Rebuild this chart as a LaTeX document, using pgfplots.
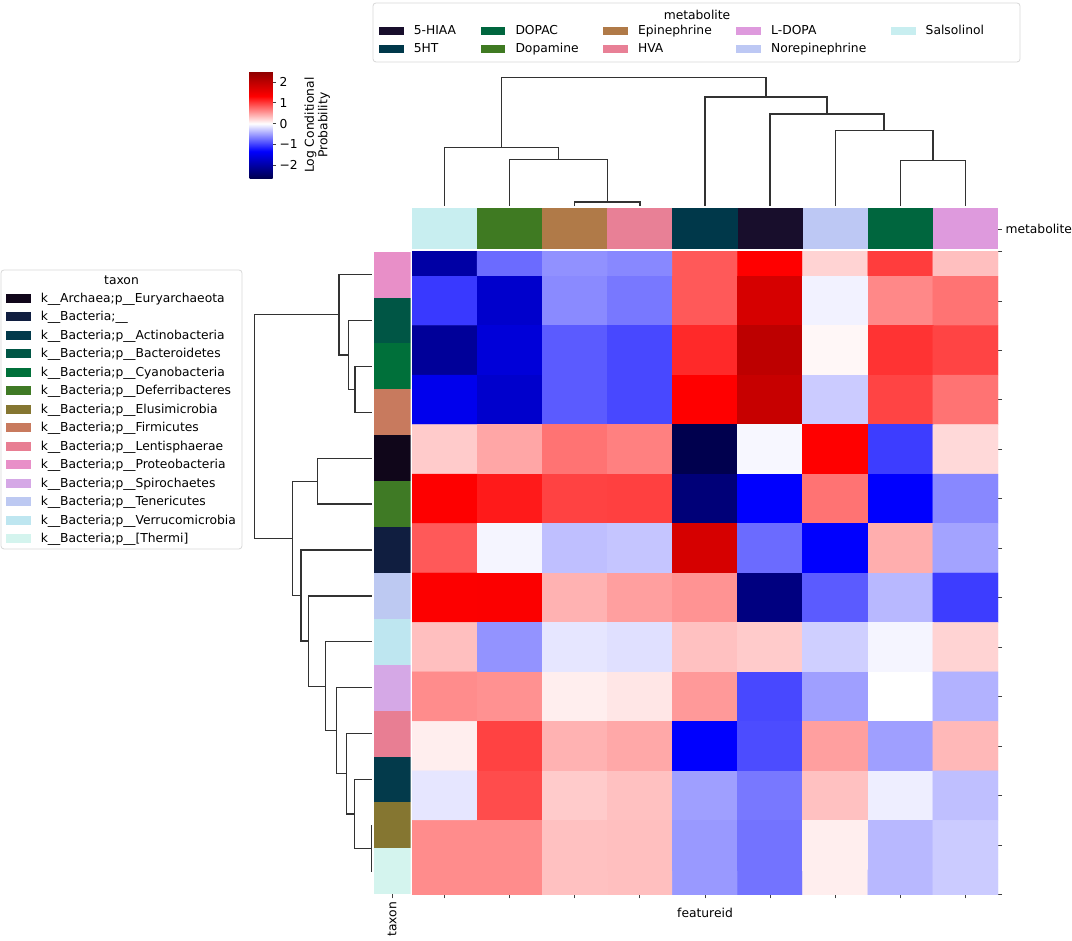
\documentclass[border=0pt]{standalone}
\usepackage{fontspec}
\setmainfont{DejaVu Sans}
\usepackage{pgfplots}
\pgfplotsset{compat=1.18}

% metabolite colours
\definecolor{mHIAA}{RGB}{24,14,44}
\definecolor{mHT}{RGB}{0,56,74}
\definecolor{mDOPAC}{RGB}{0,102,62}
\definecolor{mDopa}{RGB}{63,122,34}
\definecolor{mEpi}{RGB}{176,122,72}
\definecolor{mHVA}{RGB}{232,128,150}
\definecolor{mLDOPA}{RGB}{222,154,221}
\definecolor{mNor}{RGB}{189,200,244}
\definecolor{mSal}{RGB}{200,238,240}
% taxon colours
\definecolor{tEur}{RGB}{16,6,26}
\definecolor{tBac}{RGB}{16,30,64}
\definecolor{tAct}{RGB}{3,58,75}
\definecolor{tBact}{RGB}{0,86,69}
\definecolor{tCya}{RGB}{0,112,58}
\definecolor{tDef}{RGB}{63,122,37}
\definecolor{tElu}{RGB}{133,118,49}
\definecolor{tFir}{RGB}{200,122,94}
\definecolor{tLen}{RGB}{232,126,147}
\definecolor{tPro}{RGB}{232,143,200}
\definecolor{tSpi}{RGB}{213,168,230}
\definecolor{tTen}{RGB}{189,201,242}
\definecolor{tVer}{RGB}{190,230,240}
\definecolor{tThe}{RGB}{212,244,238}
\definecolor{dgray}{RGB}{50,50,50}
\definecolor{boxgray}{RGB}{215,215,215}

\pgfplotsset{
  base/.style={scale only axis, anchor=south west, enlargelimits=false,
    axis line style={draw=none}, tick align=outside, major tick length=4pt,
    tick style={black!75, line width=0.8pt}},
  link/.style={dgray, line width=1.3pt, sharp plot, no markers},
  patchleg/.style={hide axis, anchor=north west, scale only axis, width=10pt, height=10pt,
    xmin=0, xmax=1, ymin=0, ymax=1, legend cell align=left,
    legend image code/.code={\fill[##1, draw=none] (0pt,-4.3pt) rectangle (24.6pt,4.3pt);},
    legend style={at={(0,1)}, anchor=north west, draw=none, fill=none,
      inner sep=0pt, outer sep=0pt, column sep=10.2pt,
      nodes={inner sep=0pt, text height=9pt, text depth=1pt}}},
}

\begin{document}
\begin{tikzpicture}[font=\fontsize{12.3}{14.5}\selectfont]
\useasboundingbox (0pt,0pt) rectangle (1072pt,941pt);

% heatmap: columns Salsolinol, Dopamine, Epinephrine, HVA, 5HT, 5-HIAA, Norepinephrine, DOPAC, L-DOPA
\begin{axis}[base, at={(412pt,46.5pt)}, width=586pt, height=643pt,
  xmin=-0.5, xmax=8.5, ymin=0, ymax=13, y dir=reverse,
  xtick={0,...,8}, xticklabel=\empty, xtick pos=bottom,
  ytick={0,...,13}, yticklabel=\empty, ytick pos=right,
  xlabel={featureid},
  xlabel style={at={(axis description cs:0.5,0)}, anchor=north, yshift=-10.5pt},
  colormap={seis}{rgb(0pt)=(0,0,0.3); rgb(132.5pt)=(0,0,1); rgb(265pt)=(1,1,1);
    rgb(397.5pt)=(1,0,0); rgb(515pt)=(0.556,0,0)},
  point meta min=-2.65, point meta max=2.5,
  colorbar, colorbar/width=23pt,
  colorbar style={at={(241pt,869.3pt)}, anchor=north west,
    scale only axis, width=23pt, height=107pt, axis line style={draw=none},
    ytick={-2,-1,0,1,2}, yticklabels={−2,−1,0,1,2},
    ytick pos=right, yticklabel pos=right,
    tick align=outside, major tick length=3.5pt, tick style={black!75, line width=0.8pt},
    ylabel={Log Conditional\\Probability},
    ylabel style={align=center, font=\fontsize{12.3}{13.5}\selectfont}},
]
\addplot[matrix plot*, mesh/cols=9, point meta=explicit]
  table[x=x, y=y, meta=c, row sep=\\] {
x y c\\
0 0 -1.99\\ 1 0 -0.77\\ 2 0 -0.57\\ 3 0 -0.62\\ 4 0 0.86\\ 5 0 1.33\\ 6 0 0.23\\ 7 0 1.01\\ 8 0 0.33\\
0 1 -1.03\\ 1 1 -1.70\\ 2 1 -0.61\\ 3 1 -0.70\\ 4 1 0.86\\ 5 1 1.75\\ 6 1 -0.07\\ 7 1 0.62\\ 8 1 0.73\\
0 2 -2.08\\ 1 2 -1.61\\ 2 2 -0.85\\ 3 2 -0.95\\ 4 2 1.11\\ 5 2 2.01\\ 6 2 0.04\\ 7 2 1.06\\ 8 2 0.97\\
0 3 -1.46\\ 1 3 -1.70\\ 2 3 -0.85\\ 3 3 -0.95\\ 4 3 1.33\\ 5 3 1.91\\ 6 3 -0.27\\ 7 3 0.97\\ 8 3 0.73\\
0 4 0.27\\ 1 4 0.46\\ 2 4 0.73\\ 3 4 0.66\\ 4 4 -2.64\\ 5 4 -0.04\\ 6 4 1.33\\ 7 4 -1.01\\ 8 4 0.20\\
0 5 1.34\\ 1 5 1.19\\ 2 5 0.98\\ 3 5 0.99\\ 4 5 -2.33\\ 5 5 -1.33\\ 6 5 0.73\\ 7 5 -1.33\\ 8 5 -0.62\\
0 6 0.86\\ 1 6 -0.05\\ 2 6 -0.33\\ 3 6 -0.30\\ 4 6 1.75\\ 5 6 -0.77\\ 6 6 -1.33\\ 7 6 0.42\\ 8 6 -0.48\\
0 7 1.35\\ 1 7 1.36\\ 2 7 0.40\\ 3 7 0.50\\ 4 7 0.56\\ 5 7 -2.27\\ 6 7 -0.85\\ 7 7 -0.37\\ 8 7 -1.01\\
0 8 0.33\\ 1 8 -0.56\\ 2 8 -0.13\\ 3 8 -0.16\\ 4 8 0.32\\ 5 8 0.27\\ 6 8 -0.25\\ 7 8 -0.05\\ 8 8 0.23\\
0 9 0.60\\ 1 9 0.57\\ 2 9 0.09\\ 3 9 0.13\\ 4 9 0.53\\ 5 9 -0.95\\ 6 9 -0.50\\ 7 9 0.00\\ 8 9 -0.40\\
0 10 0.09\\ 1 10 0.98\\ 2 10 0.40\\ 3 10 0.45\\ 4 10 -1.33\\ 5 10 -0.93\\ 6 10 0.50\\ 7 10 -0.50\\ 8 10 0.37\\
0 11 -0.13\\ 1 11 0.93\\ 2 11 0.27\\ 3 11 0.32\\ 4 11 -0.50\\ 5 11 -0.70\\ 6 11 0.32\\ 7 11 -0.09\\ 8 11 -0.33\\
0 12 0.60\\ 1 12 0.60\\ 2 12 0.32\\ 3 12 0.33\\ 4 12 -0.53\\ 5 12 -0.73\\ 6 12 0.09\\ 7 12 -0.37\\ 8 12 -0.27\\
0 13 0.60\\ 1 13 0.60\\ 2 13 0.32\\ 3 13 0.33\\ 4 13 -0.53\\ 5 13 -0.73\\ 6 13 0.09\\ 7 13 -0.37\\ 8 13 -0.27\\
};
\end{axis}

% metabolite colour bar
\begin{axis}[base, at={(412pt,691.5pt)}, width=586pt, height=41pt,
  xmin=-0.5, xmax=8.5, ymin=0, ymax=1, xtick=\empty,
  ytick={0.5}, yticklabels={metabolite}, ytick pos=right, yticklabel pos=right]
\addplot[fill=mSal, draw=none] coordinates {(-0.5,0) (0.5,0) (0.5,1) (-0.5,1)} --cycle;
\addplot[fill=mDopa, draw=none] coordinates {(0.5,0) (1.5,0) (1.5,1) (0.5,1)} --cycle;
\addplot[fill=mEpi, draw=none] coordinates {(1.5,0) (2.5,0) (2.5,1) (1.5,1)} --cycle;
\addplot[fill=mHVA, draw=none] coordinates {(2.5,0) (3.5,0) (3.5,1) (2.5,1)} --cycle;
\addplot[fill=mHT, draw=none] coordinates {(3.5,0) (4.5,0) (4.5,1) (3.5,1)} --cycle;
\addplot[fill=mHIAA, draw=none] coordinates {(4.5,0) (5.5,0) (5.5,1) (4.5,1)} --cycle;
\addplot[fill=mNor, draw=none] coordinates {(5.5,0) (6.5,0) (6.5,1) (5.5,1)} --cycle;
\addplot[fill=mDOPAC, draw=none] coordinates {(6.5,0) (7.5,0) (7.5,1) (6.5,1)} --cycle;
\addplot[fill=mLDOPA, draw=none] coordinates {(7.5,0) (8.5,0) (8.5,1) (7.5,1)} --cycle;
\end{axis}

% column dendrogram
\begin{axis}[base, at={(412pt,735pt)}, width=586pt, height=128.3pt,
  xmin=-0.5, xmax=8.5, ymin=0, ymax=128.3, xtick=\empty, ytick=\empty, clip=false]
\addplot[link] coordinates {(2,0) (2,4) (3,4) (3,0)};
\addplot[link] coordinates {(1,0) (1,46.3) (2.5,46.3) (2.5,4)};
\addplot[link] coordinates {(0,0) (0,58.3) (1.75,58.3) (1.75,46.3)};
\addplot[link] coordinates {(7,0) (7,45.7) (8,45.7) (8,0)};
\addplot[link] coordinates {(6,0) (6,75.3) (7.5,75.3) (7.5,45.7)};
\addplot[link] coordinates {(5,0) (5,92) (6.75,92) (6.75,75.3)};
\addplot[link] coordinates {(4,0) (4,109) (5.875,109) (5.875,92)};
\addplot[link] coordinates {(0.875,58.3) (0.875,128.3) (4.9375,128.3) (4.9375,109)};
\end{axis}

% taxon colour bar
\begin{axis}[base, at={(374pt,46.7pt)}, width=36.5pt, height=642.6pt,
  xmin=0, xmax=1, ymin=0, ymax=14, y dir=reverse, ytick=\empty,
  xtick={0.5}, xticklabels={taxon}, xtick pos=bottom,
  x tick label style={rotate=90, anchor=east}]
\addplot[fill=tPro, draw=none] coordinates {(0,0) (1,0) (1,1) (0,1)} --cycle;
\addplot[fill=tBact, draw=none] coordinates {(0,1) (1,1) (1,2) (0,2)} --cycle;
\addplot[fill=tCya, draw=none] coordinates {(0,2) (1,2) (1,3) (0,3)} --cycle;
\addplot[fill=tFir, draw=none] coordinates {(0,3) (1,3) (1,4) (0,4)} --cycle;
\addplot[fill=tEur, draw=none] coordinates {(0,4) (1,4) (1,5) (0,5)} --cycle;
\addplot[fill=tDef, draw=none] coordinates {(0,5) (1,5) (1,6) (0,6)} --cycle;
\addplot[fill=tBac, draw=none] coordinates {(0,6) (1,6) (1,7) (0,7)} --cycle;
\addplot[fill=tTen, draw=none] coordinates {(0,7) (1,7) (1,8) (0,8)} --cycle;
\addplot[fill=tVer, draw=none] coordinates {(0,8) (1,8) (1,9) (0,9)} --cycle;
\addplot[fill=tSpi, draw=none] coordinates {(0,9) (1,9) (1,10) (0,10)} --cycle;
\addplot[fill=tLen, draw=none] coordinates {(0,10) (1,10) (1,11) (0,11)} --cycle;
\addplot[fill=tAct, draw=none] coordinates {(0,11) (1,11) (1,12) (0,12)} --cycle;
\addplot[fill=tElu, draw=none] coordinates {(0,12) (1,12) (1,13) (0,13)} --cycle;
\addplot[fill=tThe, draw=none] coordinates {(0,13) (1,13) (1,14) (0,14)} --cycle;
\end{axis}

% row dendrogram
\begin{axis}[base, at={(254.7pt,46.7pt)}, width=117pt, height=642.6pt,
  xmin=0, xmax=117, x dir=reverse, ymin=-0.5, ymax=13.5, y dir=reverse,
  xtick=\empty, ytick=\empty, clip=false]
\addplot[link] coordinates {(0,2) (16.7,2) (16.7,3) (0,3)};
\addplot[link] coordinates {(0,1) (23.3,1) (23.3,2.5) (16.7,2.5)};
\addplot[link] coordinates {(0,0) (32.7,0) (32.7,1.75) (23.3,1.75)};
\addplot[link] coordinates {(0,4) (54.3,4) (54.3,5) (0,5)};
\addplot[link] coordinates {(0,12) (0.5,12) (0.5,13) (0,13)};
\addplot[link] coordinates {(0,11) (17.3,11) (17.3,12.5) (0.5,12.5)};
\addplot[link] coordinates {(0,10) (25.3,10) (25.3,11.75) (17.3,11.75)};
\addplot[link] coordinates {(0,9) (35.3,9) (35.3,10.875) (25.3,10.875)};
\addplot[link] coordinates {(0,8) (46,8) (46,9.9375) (35.3,9.9375)};
\addplot[link] coordinates {(0,7) (63.3,7) (63.3,8.96875) (46,8.96875)};
\addplot[link] coordinates {(0,6) (70.7,6) (70.7,7.984375) (63.3,7.984375)};
\addplot[link] coordinates {(54.3,4.5) (79,4.5) (79,6.9921875) (70.7,6.9921875)};
\addplot[link] coordinates {(32.7,0.875) (117,0.875) (117,5.74609375) (79,5.74609375)};
\end{axis}

% metabolite legend
\draw[boxgray, line width=0.8pt, rounded corners=3pt] (373pt,879pt) rectangle (1020pt,938pt);
\node at (697pt,926pt) {metabolite};
\begin{axis}[patchleg, at={(379pt,915pt)}, legend columns=5,
  legend style={row sep=8pt, /tikz/every even column/.append style={column sep=24.6pt}}]
\addlegendimage{fill=mHIAA}\addlegendentry{5-HIAA}
\addlegendimage{fill=mDOPAC}\addlegendentry{DOPAC}
\addlegendimage{fill=mEpi}\addlegendentry{Epinephrine}
\addlegendimage{fill=mLDOPA}\addlegendentry{L-DOPA}
\addlegendimage{fill=mSal}\addlegendentry{Salsolinol}
\addlegendimage{fill=mHT}\addlegendentry{5HT}
\addlegendimage{fill=mDopa}\addlegendentry{Dopamine}
\addlegendimage{fill=mHVA}\addlegendentry{HVA}
\addlegendimage{fill=mNor}\addlegendentry{Norepinephrine}
\end{axis}

% taxon legend
\draw[boxgray, line width=0.8pt, rounded corners=3pt] (1pt,392pt) rectangle (242pt,671pt);
\node at (121.5pt,661pt) {taxon};
\begin{axis}[patchleg, at={(6pt,647.7pt)}, legend style={row sep=8.5pt}]
\addlegendimage{fill=tEur}\addlegendentry{k\_\_Archaea;p\_\_Euryarchaeota}
\addlegendimage{fill=tBac}\addlegendentry{k\_\_Bacteria;\_\_}
\addlegendimage{fill=tAct}\addlegendentry{k\_\_Bacteria;p\_\_Actinobacteria}
\addlegendimage{fill=tBact}\addlegendentry{k\_\_Bacteria;p\_\_Bacteroidetes}
\addlegendimage{fill=tCya}\addlegendentry{k\_\_Bacteria;p\_\_Cyanobacteria}
\addlegendimage{fill=tDef}\addlegendentry{k\_\_Bacteria;p\_\_Deferribacteres}
\addlegendimage{fill=tElu}\addlegendentry{k\_\_Bacteria;p\_\_Elusimicrobia}
\addlegendimage{fill=tFir}\addlegendentry{k\_\_Bacteria;p\_\_Firmicutes}
\addlegendimage{fill=tLen}\addlegendentry{k\_\_Bacteria;p\_\_Lentisphaerae}
\addlegendimage{fill=tPro}\addlegendentry{k\_\_Bacteria;p\_\_Proteobacteria}
\addlegendimage{fill=tSpi}\addlegendentry{k\_\_Bacteria;p\_\_Spirochaetes}
\addlegendimage{fill=tTen}\addlegendentry{k\_\_Bacteria;p\_\_Tenericutes}
\addlegendimage{fill=tVer}\addlegendentry{k\_\_Bacteria;p\_\_Verrucomicrobia}
\addlegendimage{fill=tThe}\addlegendentry{k\_\_Bacteria;p\_\_[Thermi]}
\end{axis}
\end{tikzpicture}
\end{document}
